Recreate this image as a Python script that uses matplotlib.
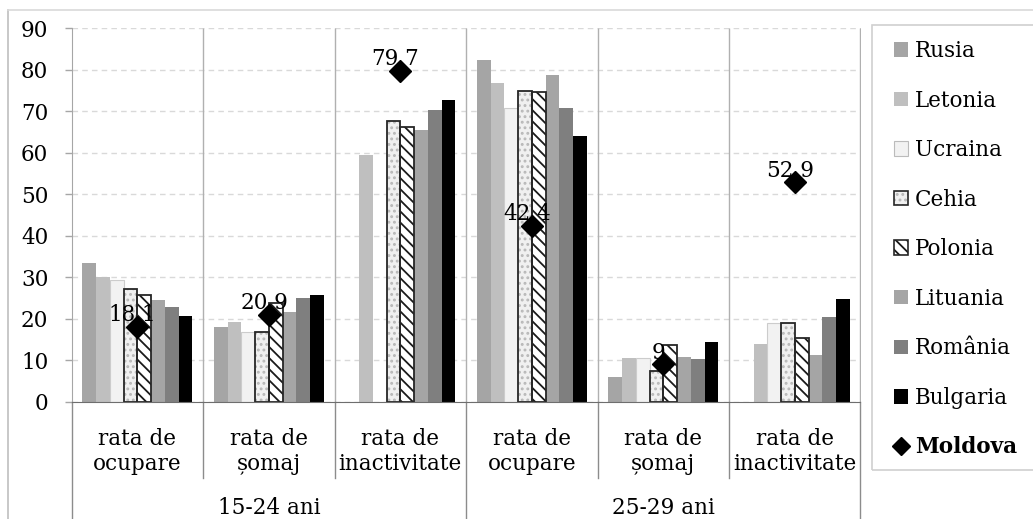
import numpy as np
import matplotlib
matplotlib.use('Agg')
import matplotlib.pyplot as plt
from matplotlib.patches import Patch, Rectangle
from matplotlib.lines import Line2D
from matplotlib.legend_handler import HandlerTuple
import matplotlib.transforms as mtransforms

nan = np.nan
categories = ['rata de\nocupare', 'rata de\nșomaj', 'rata de\ninactivitate',
              'rata de\nocupare', 'rata de\nșomaj', 'rata de\ninactivitate']
groups = ['15-24 ani', '25-29 ani']
countries = ['Rusia', 'Letonia', 'Ucraina', 'Cehia', 'Polonia', 'Lituania', 'România', 'Bulgaria']
rusia = [33.4, 18.1, nan, 82.3, 5.9, nan]
letonia = [30.1, 19.3, 59.4, 76.7, 10.6, 13.9]
ucraina = [29.3, 16.7, nan, 70.7, 10.5, 19.0]
cehia = [27.1, 16.7, 67.7, 75.0, 7.4, 19.0]
polonia = [25.8, 23.9, 66.1, 74.6, 13.7, 15.3]
lituania = [24.5, 21.5, 65.6, 78.7, 10.8, 11.3]
romania = [22.9, 25.0, 70.3, 70.9, 10.4, 20.5]
bulgaria = [20.7, 25.8, 72.7, 64.0, 14.3, 24.8]
moldova = [18.1, 20.9, 79.7, 42.4, 9, 52.9]
moldova_labels = ['18.1', '20.9', '79.7', '42.4', '9', '52.9']
yticks = list(range(0, 91, 10))

series = [rusia, letonia, ucraina, cehia, polonia, lituania, romania, bulgaria]

plt.rcParams['font.family'] = ['DejaVu Serif']
plt.rcParams['font.size'] = 15.5
plt.rcParams['hatch.linewidth'] = 1.3

W, H = 1033, 519
fig = plt.figure(figsize=(W / 100, H / 100), dpi=100)
x0, x1, ytop, ybot = 71.7, 860.5, 28.3, 401.7
ax = fig.add_axes([x0 / W, 1 - ybot / H, (x1 - x0) / W, (ybot - ytop) / H])

n = len(categories)
centers = np.arange(n) + 0.5
w = 0.1045

DOT_HATCH = '...'
STRIPE_HATCH = '\\\\\\'

styles = [
    dict(color='#a5a5a5'),
    dict(color='#bfbfbf'),
    dict(color='#f2f2f2', edgecolor='#cccccc', linewidth=0.8),
    None,  # Cehia
    None,  # Polonia
    dict(color='#a5a5a5'),
    dict(color='#7f7f7f'),
    dict(color='#000000'),
]

for j, vals in enumerate(series):
    xs = centers + (j - 3.5) * w
    v = np.array(vals, dtype=float)
    if j == 3:
        ax.bar(xs, v, w, facecolor='#f0f0f0', edgecolor='#b8b8b8', hatch=DOT_HATCH, linewidth=0, zorder=2)
        ax.bar(xs, v, w, fill=False, edgecolor='#262626', linewidth=1.3, zorder=3)
    elif j == 4:
        ax.bar(xs, v, w, facecolor='white', edgecolor='#1a1a1a', hatch=STRIPE_HATCH, linewidth=0, zorder=2)
        ax.bar(xs, v, w, fill=False, edgecolor='#262626', linewidth=1.3, zorder=3)
    else:
        ax.bar(xs, v, w, zorder=2, **styles[j])

ax.plot(centers, moldova, 'D', color='black', ms=11.5, ls='none', zorder=6, clip_on=False)
for xc, yv, lbl in zip(centers, moldova, moldova_labels):
    ax.annotate(lbl, (xc, yv), xytext=(-3.5, 4), textcoords='offset points',
                ha='center', va='baseline', fontsize=15.5, zorder=7)

ax.set_xlim(0, n)
ax.set_ylim(0, 90)
ax.set_yticks(yticks)
ax.set_xticks([])
ax.yaxis.grid(True, linestyle=(0, (4, 3)), color='#d9d9d9', linewidth=1)
ax.set_axisbelow(True)
ax.tick_params(axis='y', length=4.8, width=1, color='#a6a6a6', pad=12, labelsize=15.5)
ax.spines['top'].set_visible(False)
ax.spines['right'].set_visible(False)
ax.spines['left'].set_color('#a6a6a6')
ax.spines['bottom'].set_color('#6e6e6e')
ax.spines['bottom'].set_zorder(5)

ax.vlines(np.arange(1, n + 1), 0, 90, color='#b0b0b0', linewidth=1, zorder=1)

trans = mtransforms.blended_transform_factory(ax.transData, ax.transAxes)
sub_bottom = -(478 - ybot) / (ybot - ytop)
grp_bottom = -(525 - ybot) / (ybot - ytop)
for xv in [1, 2, 4, 5]:
    ax.plot([xv, xv], [0, sub_bottom], transform=trans, clip_on=False, color='#8c8c8c', lw=1)
for xv in [0, 3, 6]:
    ax.plot([xv, xv], [0, grp_bottom], transform=trans, clip_on=False, color='#8c8c8c', lw=1)

cat_top = -(428 - ybot) / (ybot - ytop)
for xc, cat in zip(centers, categories):
    ax.text(xc, cat_top, cat, transform=trans, ha='center', va='top', fontsize=15.5, linespacing=1.2)

grp_base = -(518.5 - ybot) / (ybot - ytop)
for g, lbl in enumerate(groups):
    ax.text(g * 3 + 1.5, grp_base, lbl, transform=trans, ha='center', va='bottom', fontsize=15.5)

# legend
handles = [
    Patch(facecolor='#a5a5a5'),
    Patch(facecolor='#bfbfbf'),
    Patch(facecolor='#f2f2f2', edgecolor='#bbbbbb', linewidth=0.8),
    (Patch(facecolor='#f0f0f0', edgecolor='#b8b8b8', hatch=DOT_HATCH, linewidth=0),
     Patch(fill=False, edgecolor='#262626', linewidth=1.2)),
    (Patch(facecolor='white', edgecolor='#1a1a1a', hatch=STRIPE_HATCH, linewidth=0),
     Patch(fill=False, edgecolor='#262626', linewidth=1.2)),
    Patch(facecolor='#a5a5a5'),
    Patch(facecolor='#7f7f7f'),
    Patch(facecolor='#000000'),
    Line2D([], [], marker='D', color='black', ls='none', ms=9),
]
leg = fig.legend(handles, countries + ['Moldova'], loc='upper left',
                 bbox_to_anchor=(894 / W, 1 - 40 / H), frameon=False,
                 borderpad=0, borderaxespad=0, handlelength=0.65, handleheight=0.65,
                 handletextpad=0.33, labelspacing=1.28, fontsize=15.5,
                 handler_map={tuple: HandlerTuple(ndivide=1, pad=0)})
leg.get_texts()[-1].set_fontweight('bold')

fig.add_artist(Rectangle((871.7 / W, 1 - 470 / H), (1045 - 871.7) / W, (470 - 25) / H,
                         transform=fig.transFigure, fill=False, edgecolor='#d0d0d0', lw=1.2))
fig.add_artist(Line2D([8 / W, 8 / W], [0, 1 - 10 / H], transform=fig.transFigure, color='#bfbfbf', lw=1.2))
fig.add_artist(Line2D([8 / W, 1], [1 - 10 / H, 1 - 10 / H], transform=fig.transFigure, color='#d9d9d9', lw=1.2))

fig.savefig('out.png', dpi=100)
